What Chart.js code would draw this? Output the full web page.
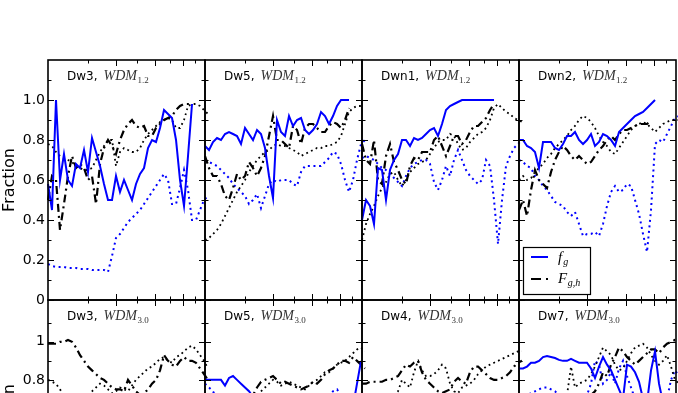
<!DOCTYPE html>
<html>
<head>
<meta charset="utf-8">
<script src="https://cdn.jsdelivr.net/npm/chart.js@4.4.0/dist/chart.umd.min.js"></script>
<style>
  html, body { margin: 0; padding: 0; background: #fff; overflow: hidden; }
  #wrap { position: relative; width: 678px; height: 393px; overflow: hidden; background: #fff; }
  #wrap canvas { position: absolute; }
</style>
</head>
<body>
<div id="wrap"></div>
<script>
// sampling grid on the (log) x axis, shared by every panel
const xGrid = [2.000,2.084,2.171,2.262,2.356,2.455,2.558,2.665,2.777,2.893,3.014,3.140,3.272,3.409,3.551,3.700,3.855,4.016,4.184,4.359,4.542,4.732,4.930,5.137,5.352,5.576,5.809,6.052,6.306,6.570,6.845,7.131,7.430,7.741,8.065,8.402,8.754,9.120,9.502,9.900,10.31]
const xTicks = [3,4,5,6,7,8,9]
const xMajor = [4,6,8]
const yTicks = [0,0.1,0.2,0.3,0.4,0.5,0.6,0.7,0.8,0.9,1.0,1.1]

// ---- top row, WDM 1.2 ----
const fg_Dw3_12     = [0.58,0.45,1.0,0.6,0.73,0.6,0.57,0.68,0.66,0.75,0.64,0.81,0.74,0.67,0.58,0.5,0.5,0.62,0.54,0.6,0.55,0.5,0.58,0.63,0.66,0.76,0.8,0.79,0.86,0.95,0.93,0.91,0.8,0.6,0.47,0.72,0.98,null,null,null,null]
const fgDot_Dw3_12  = [0.18,0.17,0.165,0.165,0.165,0.16,0.16,0.16,0.155,0.155,0.155,0.15,0.15,0.15,0.15,0.14,0.22,0.31,0.33,0.36,0.39,0.41,0.43,0.45,0.48,0.51,0.54,0.57,0.6,0.63,0.6,0.48,0.48,0.56,0.65,0.55,0.4,0.4,0.45,0.5,0.52]
const Fgh_Dw3_12    = [0.5,0.62,0.6,0.35,0.48,0.62,0.72,0.66,0.68,0.66,0.6,0.62,0.48,0.68,0.76,0.8,0.77,0.73,0.8,0.85,0.88,0.9,0.87,0.86,0.87,0.82,0.82,0.86,0.88,0.9,0.91,0.92,0.95,0.97,0.98,0.98,0.98,null,null,null,null]
const FghDot_Dw3_12 = [0.78,0.77,0.74,0.72,0.71,0.7,0.69,0.67,0.66,0.65,0.65,0.66,0.7,0.74,0.77,0.8,0.8,0.67,0.74,0.76,0.75,0.74,0.74,0.76,0.8,0.83,0.85,0.87,0.89,0.9,0.91,0.9,0.86,0.86,0.9,0.97,0.98,0.98,0.97,0.95,0.93]

const fg_Dw5_12     = [0.77,0.75,0.79,0.81,0.8,0.83,0.84,0.83,0.82,0.78,0.86,0.83,0.8,0.85,0.83,0.76,0.62,0.51,0.9,0.84,0.82,0.92,0.87,0.9,0.91,0.85,0.83,0.85,0.88,0.94,0.92,0.88,0.92,0.97,1.0,1.0,1.0,null,null,null,null]
const fgDot_Dw5_12  = [0.7,0.69,0.68,0.67,0.65,0.63,0.61,0.58,0.56,0.54,0.52,0.48,0.5,0.53,0.46,0.52,0.58,0.6,0.59,0.6,0.6,0.6,0.58,0.57,0.64,0.67,0.67,0.67,0.67,0.67,0.69,0.71,0.74,0.73,0.68,0.6,0.54,0.6,0.7,0.78,0.8]
const Fgh_Dw5_12    = [0.72,0.66,0.62,0.62,0.58,0.52,0.5,0.56,0.63,0.6,0.62,0.69,0.66,0.62,0.66,0.72,0.82,0.92,0.8,0.8,0.78,0.76,0.87,0.85,0.78,0.86,0.88,0.88,0.86,0.84,0.84,0.87,0.89,0.88,0.86,0.9,0.96,null,null,null,null]
const FghDot_Dw5_12 = [0.3,0.31,0.33,0.35,0.38,0.42,0.46,0.5,0.54,0.57,0.6,0.64,0.67,0.7,0.72,0.74,0.75,0.77,0.78,0.77,0.77,0.76,0.75,0.74,0.72,0.73,0.74,0.75,0.76,0.76,0.77,0.77,0.78,0.79,0.82,0.88,0.94,0.96,0.97,0.97,null]

const fg_Dwn1_12     = [0.4,0.5,0.47,0.38,0.66,0.65,0.5,0.65,0.7,0.73,0.8,0.8,0.77,0.81,0.8,0.81,0.83,0.85,0.86,0.82,0.88,0.95,0.97,0.98,0.99,1.0,1.0,1.0,1.0,1.0,1.0,1.0,1.0,1.0,null,null,null,null,null,null,null]
const fgDot_Dwn1_12  = [0.71,0.72,0.71,0.7,0.68,0.66,0.65,0.63,0.61,0.59,0.57,0.62,0.66,0.68,0.69,0.7,0.7,0.68,0.59,0.55,0.6,0.67,0.62,0.7,0.75,0.7,0.65,0.62,0.6,0.58,0.6,0.7,0.67,0.5,0.28,0.5,0.67,0.72,0.76,0.78,0.8]
const Fgh_Dwn1_12    = [0.78,0.7,0.68,0.8,0.6,0.58,0.72,0.78,0.69,0.65,0.6,0.58,0.67,0.71,0.7,0.74,0.74,0.74,0.8,0.82,0.77,0.72,0.77,0.82,0.82,0.78,0.8,0.84,0.87,0.87,0.89,0.91,0.95,0.98,null,null,null,null,null,null,null]
const FghDot_Dwn1_12 = [0.3,0.38,0.43,0.47,0.52,0.56,0.59,0.63,0.64,0.6,0.57,0.6,0.64,0.66,0.68,0.69,0.7,0.73,0.76,0.79,0.8,0.8,0.83,0.82,0.78,0.75,0.76,0.79,0.81,0.83,0.84,0.86,0.9,0.96,0.98,0.96,0.94,0.93,0.91,0.9,0.89]

const fg_Dwn2_12     = [0.8,0.8,0.77,0.76,0.74,0.66,0.79,0.79,0.79,0.76,0.75,0.78,0.82,0.82,0.84,0.8,0.78,0.8,0.83,0.77,0.79,0.83,0.82,0.8,0.77,0.84,0.86,0.88,0.9,0.92,0.93,0.94,0.96,0.98,1.0,null,null,null,null,null,null]
const fgDot_Dwn2_12  = [0.7,0.69,0.67,0.66,0.62,0.6,0.57,0.55,0.52,0.49,0.48,0.47,0.44,0.42,0.44,0.38,0.32,0.33,0.33,0.34,0.32,0.38,0.47,0.54,0.57,0.54,0.55,0.58,0.57,0.5,0.43,0.33,0.24,0.45,0.78,0.8,0.79,0.83,0.87,0.91,0.92]
const Fgh_Dwn2_12    = [0.45,0.5,0.42,0.55,0.65,0.6,0.58,0.56,0.64,0.7,0.74,0.77,0.75,0.72,0.7,0.72,0.7,0.68,0.69,0.72,0.75,0.77,0.8,0.82,0.8,0.83,0.85,0.85,0.86,0.87,0.88,0.88,0.88,0.9,null,null,null,null,null,null,null]
const FghDot_Dwn2_12 = [0.6,0.62,0.6,0.61,0.64,0.66,0.68,0.71,0.73,0.76,0.78,0.8,0.82,0.85,0.87,0.9,0.92,0.91,0.89,0.86,0.82,0.79,0.77,0.74,0.73,0.76,0.79,0.82,0.85,0.87,0.88,0.89,0.88,0.86,0.84,0.86,0.88,0.89,0.9,0.9,0.9]

// ---- bottom row, WDM 3.0 (only the upper part is visible) ----
const Fgh_Dw3_30    = [0.99,0.99,0.99,1.0,1.0,1.01,1.0,0.97,0.93,0.9,0.87,0.85,0.83,0.81,0.8,0.78,0.76,0.75,0.75,0.74,0.8,0.77,0.74,0.72,0.73,0.75,0.78,0.8,0.85,0.93,0.9,0.88,0.87,0.9,0.92,0.9,0.9,0.89,0.86,0.83,0.8]
const FghDot_Dw3_30 = [0.8,0.79,0.78,0.75,0.72,0.7,0.66,0.64,0.65,0.68,0.72,0.74,0.76,0.78,0.77,0.75,0.73,0.74,0.76,0.75,0.74,0.77,0.8,0.82,0.84,0.86,0.87,0.89,0.91,0.92,0.9,0.89,0.92,0.93,0.95,0.97,0.98,0.96,0.93,0.9,0.86]

const fg_Dw5_30     = [0.8,0.8,0.8,0.8,0.8,0.77,0.81,0.82,0.8,0.78,0.76,0.74,0.71,0.68,0.66,0.63,0.6,0.58,0.6,0.62,0.59,0.57,0.6,0.63,0.61,0.58,0.6,0.62,0.64,0.61,0.6,0.63,0.66,0.64,0.62,0.6,0.62,0.66,0.78,0.9,null]
const fgDot_Dw5_30  = [0.78,0.76,0.74,0.7,0.66,0.63,0.6,0.58,0.57,0.56,0.58,0.6,0.62,0.6,0.58,0.57,0.59,0.6,0.62,0.63,0.62,0.64,0.66,0.65,0.64,0.66,0.68,0.67,0.66,0.68,0.7,0.72,0.74,0.75,0.72,0.7,0.68,0.66,0.65,0.64,0.64]
const Fgh_Dw5_30    = [0.66,0.64,0.62,0.6,0.61,0.63,0.62,0.64,0.66,0.65,0.67,0.69,0.72,0.76,0.79,0.8,0.81,0.82,0.8,0.78,0.79,0.78,0.77,0.76,0.75,0.76,0.77,0.79,0.78,0.8,0.83,0.85,0.86,0.88,0.9,0.9,0.89,0.92,0.9,0.88,0.86]
const FghDot_Dw5_30 = [0.62,0.6,0.58,0.57,0.58,0.6,0.61,0.63,0.62,0.64,0.66,0.68,0.7,0.72,0.74,0.76,0.78,0.8,0.79,0.77,0.78,0.79,0.78,0.77,0.76,0.75,0.77,0.79,0.8,0.82,0.84,0.84,0.86,0.88,0.89,0.9,0.92,0.94,0.96,0.97,0.95]

const Fgh_Dw4_30    = [0.78,0.78,0.79,0.79,0.79,0.79,0.8,0.8,0.81,0.82,0.85,0.88,0.87,0.89,0.9,0.84,0.8,0.78,0.76,0.74,0.73,0.74,0.75,0.79,0.81,0.79,0.78,0.84,0.87,0.87,0.85,0.83,0.81,0.8,0.8,0.81,0.82,0.84,0.87,0.89,0.9]
const FghDot_Dw4_30 = [0.6,0.62,0.63,0.65,0.64,0.66,0.68,0.7,0.72,0.74,0.8,0.78,0.76,0.84,0.9,0.85,0.82,0.82,0.83,0.85,0.88,0.86,0.78,0.74,0.73,0.76,0.77,0.78,0.8,0.83,0.85,0.87,0.88,0.89,0.9,0.91,0.92,0.93,0.94,0.95,0.95]

const fg_Dw7_30     = [0.86,0.86,0.87,0.89,0.89,0.9,0.92,0.925,0.92,0.915,0.905,0.9,0.9,0.91,0.9,0.89,0.89,0.89,0.86,0.81,0.87,0.92,0.88,0.85,0.8,0.75,0.7,0.88,0.87,0.84,0.79,0.7,0.68,0.85,0.95,0.78,0.68,0.65,0.7,0.72,null]
const fgDot_Dw7_30  = [0.7,0.71,0.72,0.73,0.74,0.75,0.76,0.76,0.75,0.74,0.72,0.71,0.7,0.7,0.69,0.7,0.71,0.72,0.78,0.9,0.88,0.78,0.8,0.84,0.78,0.86,0.9,0.82,0.76,0.7,0.68,0.66,0.68,0.7,0.69,0.67,0.66,0.7,0.8,0.85,0.82]
const Fgh_Dw7_30    = [0.66,0.65,0.64,0.66,0.67,0.65,0.64,0.66,0.68,0.67,0.65,0.64,0.66,0.68,0.67,0.66,0.68,0.7,0.72,0.74,0.78,0.84,0.82,0.88,0.92,0.97,0.95,0.92,0.9,0.88,0.9,0.92,0.94,0.96,0.96,0.94,0.97,0.99,1.0,1.01,1.01]
const FghDot_Dw7_30 = [0.62,0.63,0.64,0.65,0.66,0.68,0.67,0.66,0.68,0.7,0.69,0.7,0.72,0.87,0.76,0.78,0.79,0.8,0.83,0.87,0.92,0.97,0.95,0.93,0.88,0.85,0.86,0.9,0.94,0.97,0.98,0.99,0.97,0.93,0.9,0.88,0.9,0.93,0.87,0.8,0.78]

// panel list
const panels = [
  {name: 'Dw3',  wdm: '1.2', row: 0, col: 0, fg: fg_Dw3_12,  fgDot: fgDot_Dw3_12,  Fgh: Fgh_Dw3_12,  FghDot: FghDot_Dw3_12},
  {name: 'Dw5',  wdm: '1.2', row: 0, col: 1, fg: fg_Dw5_12,  fgDot: fgDot_Dw5_12,  Fgh: Fgh_Dw5_12,  FghDot: FghDot_Dw5_12},
  {name: 'Dwn1', wdm: '1.2', row: 0, col: 2, fg: fg_Dwn1_12, fgDot: fgDot_Dwn1_12, Fgh: Fgh_Dwn1_12, FghDot: FghDot_Dwn1_12},
  {name: 'Dwn2', wdm: '1.2', row: 0, col: 3, fg: fg_Dwn2_12, fgDot: fgDot_Dwn2_12, Fgh: Fgh_Dwn2_12, FghDot: FghDot_Dwn2_12, legend: true},
  {name: 'Dw3',  wdm: '3.0', row: 1, col: 0, fg: null,       fgDot: null,          Fgh: Fgh_Dw3_30,  FghDot: FghDot_Dw3_30},
  {name: 'Dw5',  wdm: '3.0', row: 1, col: 1, fg: fg_Dw5_30,  fgDot: fgDot_Dw5_30,  Fgh: Fgh_Dw5_30,  FghDot: FghDot_Dw5_30},
  {name: 'Dw4',  wdm: '3.0', row: 1, col: 2, fg: null,       fgDot: null,          Fgh: Fgh_Dw4_30,  FghDot: FghDot_Dw4_30},
  {name: 'Dw7',  wdm: '3.0', row: 1, col: 3, fg: fg_Dw7_30,  fgDot: fgDot_Dw7_30,  Fgh: Fgh_Dw7_30,  FghDot: FghDot_Dw7_30}
]

// layout
const colEdges = [48, 205, 362, 519, 676]
const rowTop = [60, 300]
const rowBottom = [300, 532]
const rowMax = [1.2, 1.22]
const PAD = 12

const BLUE = '#0000ff'
const dashDot = [8, 4, 2, 4]

function pts(arr) {
  return arr.map((v, i) => ({x: xGrid[i], y: v}))
}

function seg(ctx, x1, y1, x2, y2) {
  ctx.beginPath(); ctx.moveTo(x1, y1); ctx.lineTo(x2, y2); ctx.stroke()
}

// frame, inward ticks, panel label and legend
const framePlugin = {
  id: 'frame',
  afterDatasetsDraw(chart, args, opts) {
    const {ctx, chartArea: a, scales: {x, y}} = chart
    ctx.save()
    ctx.setLineDash([])
    ctx.strokeStyle = '#000'
    ctx.lineWidth = 1
    xTicks.forEach(v => {
      const px = Math.round(x.getPixelForValue(v)) + 0.5
      const len = xMajor.includes(v) ? 6 : 3.5
      seg(ctx, px, a.bottom, px, a.bottom - len)
      seg(ctx, px, a.top, px, a.top + len)
    })
    yTicks.forEach(v => {
      const py = Math.round(y.getPixelForValue(v)) + 0.5
      const len = Math.round(v * 10) % 2 === 0 ? 6 : 3.5
      seg(ctx, a.left, py, a.left + len, py)
      seg(ctx, a.right, py, a.right - len, py)
    })
    ctx.lineWidth = 1.6
    ctx.strokeRect(a.left, a.top, a.right - a.left, a.bottom - a.top)

    // panel label
    const tx = a.left + 19, ty = a.top + 20
    ctx.fillStyle = '#000'
    ctx.textBaseline = 'alphabetic'
    ctx.textAlign = 'left'
    ctx.font = '12px "DejaVu Sans"'
    const lab = opts.name + ','
    ctx.fillText(lab, tx, ty)
    let wx = tx + ctx.measureText(lab).width + 6
    ctx.fillStyle = '#333'
    ctx.font = 'italic 14px "Liberation Serif"'
    ctx.fillText('WDM', wx, ty)
    wx += ctx.measureText('WDM').width
    ctx.font = '9px "Liberation Serif"'
    ctx.fillText(opts.wdm, wx + 0.5, ty + 3)

    if (opts.legend) {
      const bx = a.left + 4, by = a.top + 187
      ctx.fillStyle = '#fff'
      ctx.fillRect(bx, by, 67, 47)
      ctx.lineWidth = 1.2
      ctx.strokeStyle = '#000'
      ctx.strokeRect(bx + 0.5, by + 0.5, 67, 47)
      ctx.lineWidth = 2
      ctx.strokeStyle = BLUE
      seg(ctx, bx + 8, by + 10, bx + 25, by + 10)
      ctx.strokeStyle = '#000'
      ctx.lineWidth = 2.2
      ctx.setLineDash([10, 5, 2, 20])
      seg(ctx, bx + 8, by + 32, bx + 26, by + 32)
      ctx.setLineDash([])
      ctx.fillStyle = '#000'
      ctx.font = 'italic 15px "Liberation Serif"'
      ctx.fillText('f', bx + 35, by + 15)
      ctx.fillText('F', bx + 35, by + 36)
      const fw = ctx.measureText('f').width, Fw = ctx.measureText('F').width
      ctx.font = 'italic 10px "Liberation Serif"'
      ctx.fillText('g', bx + 36 + fw, by + 18)
      ctx.fillText('g,h', bx + 35.5 + Fw, by + 39)
    }
    ctx.restore()
  }
}

const wrap = document.getElementById('wrap')

panels.forEach(p => {
  const L = colEdges[p.col], R = colEdges[p.col + 1]
  const T = rowTop[p.row], B = rowBottom[p.row]
  const first = p.col === 0
  const left = first ? 0 : L - PAD
  const w = R + PAD - left
  const h = B - T + 2 * PAD
  const cv = document.createElement('canvas')
  cv.width = w; cv.height = h
  cv.style.left = left + 'px'
  cv.style.top = (T - PAD) + 'px'
  wrap.appendChild(cv)

  const datasets = []
  if (p.fg) datasets.push({data: pts(p.fg), borderColor: BLUE, borderWidth: 2})
  if (p.Fgh) datasets.push({data: pts(p.Fgh), borderColor: '#000', borderWidth: 2.2, borderDash: dashDot})
  if (p.FghDot) datasets.push({data: pts(p.FghDot), borderColor: '#000', borderWidth: 1.8, borderDash: [1.8, 3.4]})
  if (p.fgDot) datasets.push({data: pts(p.fgDot), borderColor: BLUE, borderWidth: 2, borderDash: [2, 3.6]})
  datasets.forEach(d => {
    d.pointRadius = 0
    d.tension = 0
    d.clip = false
    d.spanGaps = false
    d.borderCapStyle = 'butt'
    d.borderJoinStyle = 'miter'
  })

  new Chart(cv, {
    type: 'line',
    data: {datasets: datasets},
    options: {
      responsive: false,
      animation: false,
      events: [],
      layout: {autoPadding: false, padding: {left: first ? 0 : PAD, right: PAD, top: PAD, bottom: PAD}},
      scales: {
        x: {type: 'logarithmic', min: 2, max: 10, display: false},
        y: {
          type: 'linear', min: 0, max: rowMax[p.row],
          display: first,
          afterFit: s => { s.width = first ? L : 0 },
          grid: {display: false, drawTicks: false},
          border: {display: false},
          title: {display: first, text: 'Fraction', color: '#000', padding: {top: 0, bottom: 0},
                  font: {family: 'DejaVu Sans', size: 16}},
          ticks: {
            display: first,
            stepSize: 0.1, autoSkip: false, padding: 3, color: '#000',
            font: {family: 'DejaVu Sans', size: 14},
            callback: v => {
              const k = Math.round(v * 10)
              if (k % 2 !== 0 || k > 10) return ''
              if (k === 0) return '0'
              if (k === 10 && p.row === 1) return '1'
              return (k / 10).toFixed(1)
            }
          }
        }
      },
      plugins: {
        legend: {display: false},
        tooltip: {enabled: false},
        frame: {name: p.name, wdm: p.wdm, legend: !!p.legend}
      }
    },
    plugins: [framePlugin]
  })
})
</script>
</body>
</html>
